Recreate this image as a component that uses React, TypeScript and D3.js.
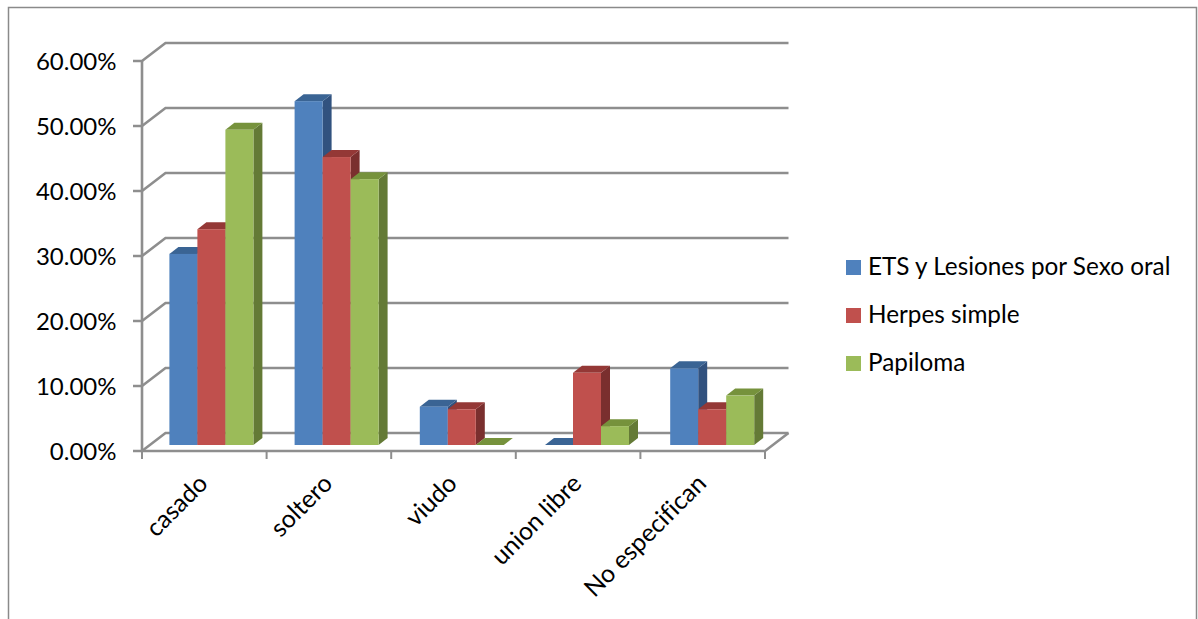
import React from "react";
import * as d3 from "d3";

const categories = ["casado", "soltero", "viudo", "union libre", "No especifican"];
const seriesNames = ["ETS y Lesiones por Sexo oral", "Herpes simple", "Papiloma"];
const etsValues = [29.4, 52.9, 5.9, 0, 11.8];
const herpesValues = [33.2, 44.3, 5.5, 11.1, 5.5];
const papilomaValues = [48.5, 40.9, 0, 2.9, 7.6];
const tickValues = [0, 10, 20, 30, 40, 50, 60];

const seriesValues = [etsValues, herpesValues, papilomaValues];
const frontColors = ["#4F81BD", "#C0504D", "#9BBB59"];
const topColors = ["#3A6494", "#943836", "#76923C"];
const sideColors = ["#31527F", "#7A2F2E", "#647A36"];

const FONT = "Lato, Carlito, Calibri, sans-serif";
const GRID = "#8E8E8E";

// Oblique projection offsets of the chart box and of the bars inside it
const wallDx = 23.5;
const wallDy = -18;
const barDepthX = 9;
const barDepthY = -7;

const left = 142;
const right = 765;
const frontBase = 451;
const barBase = 445;

const yAxis = d3.scaleLinear().domain([0, 60]).range([frontBase, frontBase - 390]);
const barHeight = d3.scaleLinear().domain([0, 60]).range([0, 390]);
const xCat = d3.scaleBand<string>().domain(categories).range([left, right]);
// Bars live on a plane set back from the front edge, so their clusters have their own spacing
const xCluster = d3.scalePoint<string>().domain(categories).range([169.4, 670.2]);
const xSeries = d3.scaleBand<number>().domain([0, 1, 2]).range([0, 84]);

const pts = (p: [number, number][]) => p.map((q) => q.join(",")).join(" ");

function Bar({ cat, s, value }: { cat: string; s: number; value: number }) {
  const x = (xCluster(cat) as number) + (xSeries(s) as number);
  const w = xSeries.bandwidth();
  const yTop = barBase - barHeight(value);
  return (
    <g>
      <polygon
        points={pts([
          [x + w, yTop],
          [x + w + barDepthX, yTop + barDepthY],
          [x + w + barDepthX, barBase + barDepthY],
          [x + w, barBase],
        ])}
        fill={sideColors[s]}
      />
      <polygon
        points={pts([
          [x, yTop],
          [x + barDepthX, yTop + barDepthY],
          [x + w + barDepthX, yTop + barDepthY],
          [x + w, yTop],
        ])}
        fill={topColors[s]}
      />
      {value > 0 && <rect x={x} y={yTop} width={w} height={barBase - yTop} fill={frontColors[s]} />}
    </g>
  );
}

export default function App() {
  const line = d3.line();
  return (
    <svg
      width={1198}
      height={619}
      style={{ position: "absolute", left: 0, top: 0, background: "#fff", fontVariantLigatures: "none" }}
      fontFamily={FONT}
    >
      {/* Outer frame: open along the bottom edge */}
      <path d="M8.5 619V7.5H1196.5V619" fill="none" stroke="#8A8A8A" strokeWidth={1.5} />

      {/* Back wall gridlines with their side-wall returns and value ticks */}
      {tickValues.map((t) => {
        const y = yAxis(t);
        return (
          <path
            key={t}
            d={
              line([
                [left - 9, y],
                [left, y],
                [left + wallDx, y + wallDy],
                [right + wallDx, y + wallDy],
              ]) as string
            }
            fill="none"
            stroke={GRID}
            strokeWidth={2.6}
          />
        );
      })}

      {/* Front edges of the floor and the vertical axis */}
      <path
        d={
          line([
            [left, yAxis(60)],
            [left, frontBase],
            [right, frontBase],
            [right + wallDx, frontBase + wallDy],
          ]) as string
        }
        fill="none"
        stroke={GRID}
        strokeWidth={2.6}
      />

      {/* Category ticks */}
      {[...categories.map((c) => xCat(c) as number), right].map((x) => (
        <line key={x} x1={x} x2={x} y1={frontBase} y2={frontBase + 8} stroke={GRID} strokeWidth={2} />
      ))}

      {/* Bars, painted left to right so the nearer faces overlap correctly */}
      {categories.map((c, i) => (
        <g key={c}>
          {seriesValues.map((vals, s) => (
            <Bar key={s} cat={c} s={s} value={vals[i]} />
          ))}
        </g>
      ))}

      {/* Value labels */}
      {tickValues.map((t) => (
        <text key={t} x={116.5} y={yAxis(t) + 8.5} textAnchor="end" fontSize={24} fill="#000">
          {t.toFixed(2)}%
        </text>
      ))}

      {/* Category labels */}
      {categories.map((c) => {
        const cx = (xCat(c) as number) + xCat.bandwidth() / 2;
        return (
          <text
            key={c}
            transform={`translate(${cx + 5},${frontBase + 34}) rotate(-45)`}
            textAnchor="end"
            fontSize={24.8}
            fill="#000"
          >
            {c}
          </text>
        );
      })}

      {/* Legend */}
      {seriesNames.map((n, i) => {
        const y = 260 + i * 48;
        return (
          <g key={n}>
            <rect x={846} y={y} width={15} height={15} fill={frontColors[i]} />
            <text x={868} y={y + 14.5} fontSize={24.3} fill="#000">
              {n}
            </text>
          </g>
        );
      })}
    </svg>
  );
}
